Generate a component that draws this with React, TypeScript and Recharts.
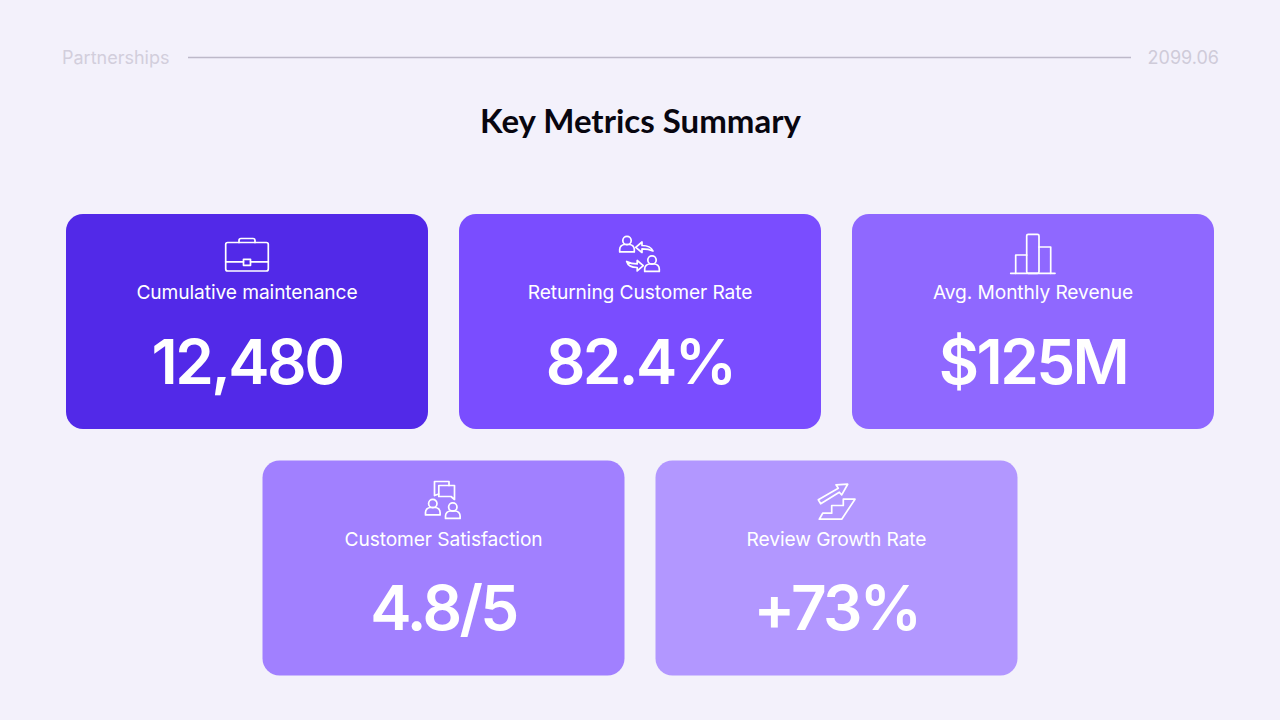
import { ScatterChart, Scatter, XAxis, YAxis } from "recharts";

const labels = ["Cumulative maintenance", "Returning Customer Rate", "Avg. Monthly Revenue", "Customer Satisfaction", "Review Growth Rate"];
const values = ["12,480", "82.4%", "$125M", "4.8/5", "+73%"];
const columns = [0, 2, 4, 1, 3];
const rows = [0, 0, 0, 1, 1];
const icons = ["briefcase", "returning", "bars", "chat", "stairs"];
const COLORS = ["#5229E8", "#7A4DFF", "#8F68FF", "#A180FF", "#B297FF"];

const cards = labels.map((label, i) => ({ label, value: values[i], col: columns[i], row: rows[i], icon: icons[i], color: COLORS[i] }));

const person = (x: number, y: number) => (
    <g>
        <circle cx={x} cy={y} r={4.2} />
        <path d={`M${x - 7.3},${y + 11.4} v-2.4 a5,5 0 0 1 5,-5 h4.6 a5,5 0 0 1 5,5 v2.4 z`} />
    </g>
);

function Icon({ name }: { name: string }) {
    let art = null;
    if (name === "briefcase") {
        art = (
            <g>
                <rect x={-21.3} y={-79} width={42.6} height={28.5} rx={2} />
                <path d="M-8,-79 v-2 a2,2 0 0 1 2,-2 h12 a2,2 0 0 1 2,2 v2" />
                <path d="M-21.3,-59.7 H-3.5 M3.5,-59.7 H21.3" />
                <rect x={-3.5} y={-62.2} width={7} height={6} />
            </g>
        );
    } else if (name === "returning") {
        art = (
            <g>
                {person(-13, -81)}
                {person(12, -61.5)}
                <path d="M-4.3,-74.2 L2,-79.5 V-76 C7,-76 11,-75 13,-70.5 C10,-72 6,-72.6 2,-72.6 V-69 Z" />
                <path d="M3.3,-55.8 L-2.8,-61 V-57.6 C-7,-57.6 -10.5,-58.5 -13.3,-60 C-12,-55.5 -7,-54 -2.8,-54 V-50.6 Z" />
            </g>
        );
    } else if (name === "bars") {
        art = (
            <g>
                <path d="M-22.3,-48.2 H22" />
                <path d="M-17.3,-48.2 V-66.5 H-6.3 M6,-74.5 H17.7 V-48.2" />
                <rect x={-6.3} y={-87.2} width={12.3} height={39} rx={1.5} />
            </g>
        );
    } else if (name === "chat") {
        art = (
            <g>
                {person(-10.7, -64.5)}
                {person(9.3, -61)}
                <path d="M-4.7,-74 L-9,-72.5 V-86.5 H5.5 V-82.5" />
                <path d="M-4.7,-82.5 H11 V-68.5 L7.5,-71.5 H-4.7 Z" />
            </g>
        );
    } else {
        art = (
            <g>
                <path d="M-13.8,-54.8 H-4.8 V-62.5 H6.8 V-68.8 H18.5 L5.2,-48.8 H-17.2 Z" />
                <path d="M-18.2,-68.2 L-15.8,-64.2 L2.8,-75.8 L5.2,-73.2 L11.2,-83.8 L-0.5,-83.2 L1.8,-79.8 Z" />
            </g>
        );
    }
    return <g fill="none" stroke="#fff" strokeWidth={1.7} strokeLinejoin="round" strokeLinecap="round">{art}</g>;
}

function Card(props: any) {
    const { cx, cy, payload } = props;
    return (
        <g transform={`translate(${cx},${cy})`}>
            <rect x={-181} y={-107.5} width={362} height={215} rx={17} fill={payload.color} />
            <Icon name={payload.icon} />
            <text y={-22.5} textAnchor="middle" fill="#fff" fontFamily="Inter" fontSize={19.2} letterSpacing={-0.1}>{payload.label}</text>
            <text y={62} textAnchor="middle" fill="#fff" fontFamily="Inter" fontWeight={600} fontSize={62} letterSpacing={-2.6}>{payload.value}</text>
        </g>
    );
}

export default function App() {
    return (
        <div style={{ position: "absolute", left: 0, top: 0, width: 1280, height: 720, background: "#F3F1FB", overflow: "hidden" }}>
            <ScatterChart width={1280} height={720} margin={{ top: 0, right: 0, bottom: 0, left: 0 }}>
                <XAxis type="number" dataKey="col" hide domain={[-1.257, 5.257]} />
                <YAxis type="number" dataKey="row" hide reversed domain={[-1.3043, 1.6166]} />
                <text x={62} y={64} fontFamily="Inter" fontSize={18} fill="#D2CEDC">Partnerships</text>
                <line x1={188} x2={1131} y1={57.5} y2={57.5} stroke="#BDB9C9" strokeWidth={1.3} />
                <text x={1219} y={63.5} textAnchor="end" fontFamily="Inter" fontSize={18} fill="#CFCBD9">2099.06</text>
                <text x={640.5} y={133} textAnchor="middle" fontFamily="Lato" fontWeight={700} fontSize={33} fill="#08060F">Key Metrics Summary</text>
                <Scatter data={cards} isAnimationActive={false} shape={Card} />
            </ScatterChart>
        </div>
    );
}
